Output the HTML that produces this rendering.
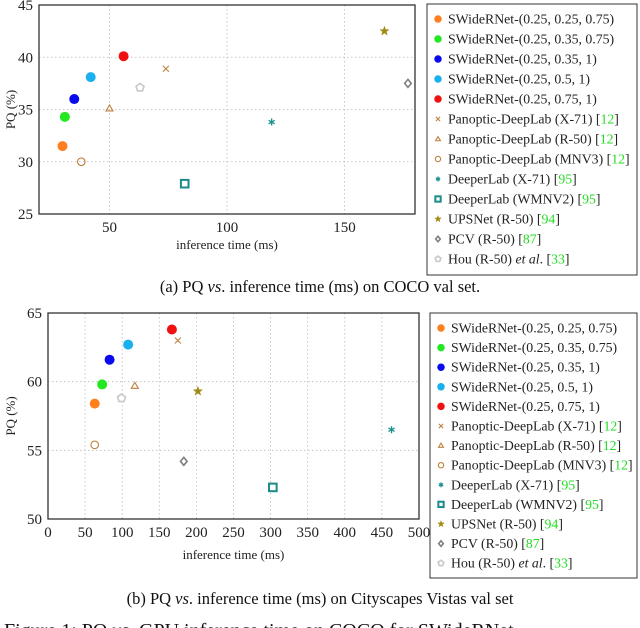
<!DOCTYPE html>
<html><head><meta charset="utf-8"><style>
html,body{margin:0;padding:0;background:#fff}
svg{display:block;font-family:"Liberation Serif",serif}
</style></head><body>
<svg id="s" width="640" height="628" viewBox="0 0 640 628" xmlns="http://www.w3.org/2000/svg"></svg>
<script>
const names=["SWideRNet-(0.25, 0.25, 0.75)","SWideRNet-(0.25, 0.35, 0.75)","SWideRNet-(0.25, 0.35, 1)","SWideRNet-(0.25, 0.5, 1)","SWideRNet-(0.25, 0.75, 1)","Panoptic-DeepLab (X-71)","Panoptic-DeepLab (R-50)","Panoptic-DeepLab (MNV3)","DeeperLab (X-71)","DeeperLab (WMNV2)","UPSNet (R-50)","PCV (R-50)","Hou (R-50)"];
const refs=["","","","","","12","12","12","95","95","94","87","33"];
const cocoTime=[30,31,35,42,56,74,50,38,119,82,167,177,63];
const cocoPQ=[31.5,34.3,36,38.1,40.1,38.9,35.1,30,33.8,27.9,42.5,37.5,37.1];
const cityTime=[63,73,83,108,167,175,117,63,463,303,202,183,99];
const cityPQ=[58.4,59.8,61.6,62.7,63.8,63,59.7,55.4,56.5,52.3,59.3,54.2,58.8];
const cocoXTicks=[50,100,150];
const cocoYTicks=[25,30,35,40,45];
const cityXTicks=[0,50,100,150,200,250,300,350,400,450,500];
const cityYTicks=[50,55,60,65];
const markers=["dot","dot","dot","dot","dot","x","tri","circ","ast","sq","star","dia","pent"];
const colors=["#ff7f1f","#22e822","#0a0aee","#1ab0f0","#f01010","#c08040","#c08040","#c08040","#1a9090","#1a8a8a","#a08a10","#808080","#c8c8c8"];
const NS="http://www.w3.org/2000/svg";
const svg=document.getElementById('s');
function el(t,a,p){const e=document.createElementNS(NS,t);for(const k in a)e.setAttribute(k,a[k]);(p||svg).appendChild(e);return e;}
function marker(g,type,c,x,y,s){
  let e;
  if(type==="dot"){e=el('circle',{cx:x,cy:y,r:5*s,fill:c},g);}
  else if(type==="x"){e=el('path',{d:`M${x-3*s} ${y-3*s}L${x+3*s} ${y+3*s}M${x-3*s} ${y+3*s}L${x+3*s} ${y-3*s}`,stroke:c,'stroke-width':1.1,fill:'none'},g);}
  else if(type==="tri"){e=el('path',{d:`M${x} ${y-3.5*s}L${x+3.5*s} ${y+2.5*s}L${x-3.5*s} ${y+2.5*s}Z`,stroke:c,'stroke-width':1.1,fill:'none'},g);}
  else if(type==="circ"){e=el('circle',{cx:x,cy:y,r:3.8*s,stroke:c,'stroke-width':1.1,fill:'none'},g);}
  else if(type==="ast"){let d='';for(let i=0;i<3;i++){const a=Math.PI/3*i+Math.PI/2;d+=`M${x-3.5*s*Math.cos(a)} ${y-3.5*s*Math.sin(a)}L${x+3.5*s*Math.cos(a)} ${y+3.5*s*Math.sin(a)}`;}e=el('path',{d:d,stroke:c,'stroke-width':1.3,fill:'none'},g);}
  else if(type==="sq"){e=el('rect',{x:x-3.8*s,y:y-3.8*s,width:7.6*s,height:7.6*s,stroke:c,'stroke-width':2,fill:'#fff'},g);}
  else if(type==="star"){let d='';for(let i=0;i<10;i++){const r=i%2?1.9*s:4.8*s;const a=-Math.PI/2+i*Math.PI/5;d+=(i?'L':'M')+(x+r*Math.cos(a))+' '+(y+r*Math.sin(a));}e=el('path',{d:d+'Z',fill:c,stroke:c,'stroke-width':0.5},g);}
  else if(type==="dia"){e=el('path',{d:`M${x} ${y-4*s}L${x+3.3*s} ${y}L${x} ${y+4*s}L${x-3.3*s} ${y}Z`,stroke:c,'stroke-width':1.6,fill:'#fff'},g);}
  else if(type==="pent"){let d='';for(let i=0;i<5;i++){const a=-Math.PI/2+i*2*Math.PI/5;d+=(i?'L':'M')+(x+4.2*s*Math.cos(a))+' '+(y+4.2*s*Math.sin(a));}e=el('path',{d:d+'Z',stroke:c,'stroke-width':1.6,fill:'#fff'},g);}
  return e;
}
function chart(id,cfg){
  const g=el('g',{});
  
  
  const X=v=>cfg.x0+(v-cfg.xmin)/(cfg.xmax-cfg.xmin)*(cfg.x1-cfg.x0);
  const Y=v=>cfg.y1-(v-cfg.ymin)/(cfg.ymax-cfg.ymin)*(cfg.y1-cfg.y0);
  cfg.xt.forEach(t=>{
    const l=el('line',{x1:X(t),x2:X(t),y1:cfg.y0,y2:cfg.y1,stroke:'#bbb','stroke-dasharray':'1.5 2.5','stroke-width':0.8},g);
    
    const tx=el('text',{x:X(t),y:cfg.y1+18,'text-anchor':'middle','font-size':15,fill:'#222'},g);tx.textContent=t;
    
  });
  cfg.yt.forEach(t=>{
    const l=el('line',{x1:cfg.x0,x2:cfg.x1,y1:Y(t),y2:Y(t),stroke:'#bbb','stroke-dasharray':'1.5 2.5','stroke-width':0.8},g);
    
    const tx=el('text',{x:cfg.x0-6,y:Y(t)+5,'text-anchor':'end','font-size':15,fill:'#222'},g);tx.textContent=t;
    
  });
  const b=el('rect',{x:cfg.x0,y:cfg.y0,width:cfg.x1-cfg.x0,height:cfg.y1-cfg.y0,fill:'none',stroke:'#333','stroke-width':1.3},g);
  
  const xt=el('text',{x:(cfg.x0+cfg.x1)/2,y:cfg.y1+cfg.xtOff,'text-anchor':'middle','font-size':13,fill:'#222'},g);xt.textContent='inference time (ms)';
  
  const cy=(cfg.y0+cfg.y1)/2;
  const yt=el('text',{x:15,y:cy,'text-anchor':'middle','font-size':13,fill:'#222',transform:`rotate(-90 15 ${cy})`},g);yt.textContent='PQ (%)';
  
  cfg.tx.forEach((v,i)=>{
    const m=marker(g,markers[i],colors[i],X(v),Y(cfg.ty[i]),1);
    
  });
  const L=cfg.leg;
  const lr=el('rect',{x:L.x,y:L.y,width:L.w,height:L.h,fill:'#fff',stroke:'#333','stroke-width':1},g);
  
  names.forEach((n,i)=>{
    const y=L.r0+i*L.dy;
    marker(g,markers[i],colors[i],L.x+11,y,markers[i]==='dot'?0.75:0.7);
    const t=el('text',{x:L.tx,y:y+4.5,'font-size':13.8,fill:'#222'},g);
    
    if(i===12){t.innerHTML='Hou (R-50) <tspan font-style="italic">et al</tspan>. [<tspan fill="#22dd22">33</tspan>]';}
    else if(refs[i]){t.innerHTML=n+' [<tspan fill="#22dd22">'+refs[i]+'</tspan>]';}
    else t.textContent=n;
  });
}
chart('coco-chart',{x0:39,x1:415,y0:5,y1:214,xmin:20,xmax:180,ymin:25,ymax:45,xt:cocoXTicks,yt:cocoYTicks,tx:cocoTime,ty:cocoPQ,xtOff:35,
  leg:{x:427,y:4,w:210,h:271,r0:19,dy:20,tx:448}});
chart('cityscapes-chart',{x0:48,x1:419,y0:313,y1:519,xmin:0,xmax:500,ymin:50,ymax:65,xt:cityXTicks,yt:cityYTicks,tx:cityTime,ty:cityPQ,xtOff:40,
  leg:{x:430,y:313,w:207,h:265,r0:328,dy:19.6,tx:451}});
function cap(txt,y,name,size,x,anchor){const t=el('text',{x:x,y:y,'text-anchor':anchor,'font-size':size,fill:'#111'});t.innerHTML=txt;}
cap('(a) PQ <tspan font-style="italic">vs</tspan>. inference time (ms) on COCO val set.',292,'caption-a',16.5,320,'middle');
cap('(b) PQ <tspan font-style="italic">vs</tspan>. inference time (ms) on Cityscapes Vistas val set',604,'caption-b',16.5,320,'middle');
cap('Figure 1: PQ <tspan font-style="italic">vs</tspan>. GPU inference time on COCO for SWideRNet',637,'figure-caption',20,4,'start');
</script>
</body></html>
